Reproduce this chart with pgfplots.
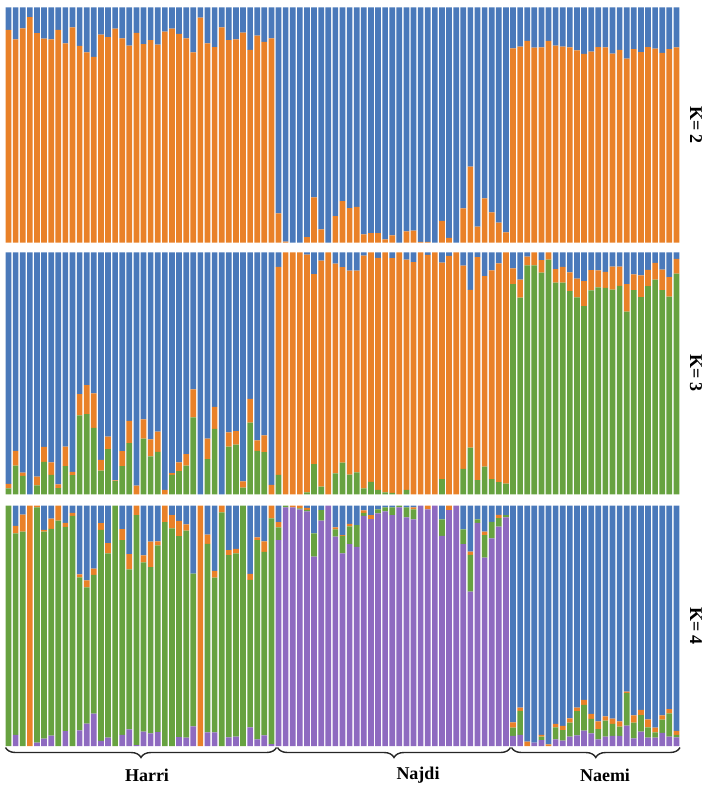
\documentclass[border=0pt]{standalone}
\usepackage{pgfplots}
\pgfplotsset{compat=1.18}
\usepackage{pgfplotstable}
\usepackage{fontspec}
\setmainfont{Liberation Serif}
\usetikzlibrary{decorations.pathreplacing}
\definecolor{cb}{RGB}{74,121,186}
\definecolor{co}{RGB}{233,129,40}
\definecolor{cg}{RGB}{103,162,64}
\definecolor{cp}{RGB}{142,106,192}

\pgfplotstableread{
i or bl
0 0.904 0.096
1 0.864 0.136
2 0.911 0.089
3 0.958 0.042
4 0.890 0.110
5 0.867 0.133
6 0.864 0.136
7 0.904 0.096
8 0.847 0.153
9 0.915 0.085
10 0.836 0.164
11 0.809 0.191
12 0.789 0.211
13 0.884 0.116
14 0.873 0.127
15 0.909 0.091
16 0.868 0.132
17 0.837 0.163
18 0.891 0.109
19 0.844 0.156
20 0.861 0.139
21 0.841 0.159
22 0.897 0.103
23 0.909 0.091
24 0.887 0.113
25 0.868 0.132
26 0.809 0.191
27 0.956 0.044
28 0.847 0.153
29 0.831 0.169
30 0.915 0.085
31 0.861 0.139
32 0.864 0.136
33 0.892 0.108
34 0.819 0.181
35 0.880 0.120
36 0.853 0.147
37 0.868 0.132
38 0.125 0.875
39 0.005 0.995
40 0.000 1.000
41 0.000 1.000
42 0.024 0.976
43 0.193 0.807
44 0.057 0.943
45 0.000 1.000
46 0.113 0.887
47 0.177 0.823
48 0.147 0.853
49 0.152 0.848
50 0.035 0.965
51 0.041 0.959
52 0.041 0.959
53 0.014 0.986
54 0.031 0.969
55 0.000 1.000
56 0.048 0.952
57 0.051 0.949
58 0.003 0.997
59 0.004 0.996
60 0.000 1.000
61 0.093 0.907
62 0.021 0.979
63 0.000 1.000
64 0.146 0.854
65 0.323 0.677
66 0.068 0.932
67 0.188 0.812
68 0.129 0.871
69 0.085 0.915
70 0.044 0.956
71 0.826 0.174
72 0.833 0.167
73 0.857 0.143
74 0.829 0.171
75 0.830 0.170
76 0.857 0.143
77 0.837 0.163
78 0.833 0.167
79 0.830 0.170
80 0.817 0.183
81 0.802 0.198
82 0.812 0.188
83 0.831 0.169
84 0.830 0.170
85 0.803 0.197
86 0.819 0.181
87 0.782 0.218
88 0.822 0.178
89 0.810 0.190
90 0.831 0.169
91 0.824 0.176
92 0.806 0.194
93 0.822 0.178
94 0.830 0.170
}\kTwo

\pgfplotstableread{
i gr or bl
0 0.025 0.018 0.957
1 0.118 0.061 0.821
2 0.076 0.014 0.910
3 0 0 1
4 0.037 0.036 0.927
5 0.134 0.062 0.804
6 0.080 0.052 0.868
7 0.026 0.015 0.959
8 0.116 0.081 0.803
9 0.079 0.014 0.907
10 0.326 0.088 0.586
11 0.331 0.120 0.549
12 0.274 0.143 0.583
13 0.098 0.044 0.858
14 0.187 0.051 0.762
15 0.054 0.004 0.942
16 0.116 0.062 0.822
17 0.212 0.091 0.697
18 0 0.036 0.964
19 0.230 0.080 0.690
20 0.157 0.070 0.773
21 0.175 0.084 0.741
22 0 0.018 0.982
23 0.080 0.008 0.912
24 0.096 0.036 0.868
25 0.118 0.048 0.834
26 0.318 0.116 0.566
27 0 0 1
28 0.145 0.085 0.770
29 0.270 0.091 0.639
30 0 0 1
31 0.197 0.059 0.744
32 0.205 0.056 0.739
33 0.028 0.025 0.947
34 0.296 0.098 0.606
35 0.179 0.044 0.777
36 0.174 0.070 0.756
37 0 0.039 0.961
38 0.080 0.860 0.060
39 0 1 0
40 0 1 0
41 0 1 0
42 0.008 0.982 0.010
43 0.125 0.785 0.090
44 0.032 0.934 0.034
45 0 1 0
46 0.087 0.866 0.047
47 0.131 0.808 0.061
48 0.081 0.843 0.076
49 0.091 0.833 0.076
50 0.025 0.961 0.014
51 0.051 0.949 0
52 0.018 0.959 0.023
53 0.008 0.992 0
54 0.006 0.970 0.024
55 0 1 0
56 0.018 0.952 0.030
57 0 0.959 0.041
58 0 1 0
59 0 0.989 0.011
60 0 1 0
61 0.063 0.894 0.043
62 0 0.985 0.015
63 0 1 0
64 0.105 0.840 0.055
65 0.193 0.652 0.155
66 0.059 0.921 0.020
67 0.114 0.788 0.098
68 0.063 0.862 0.075
69 0.050 0.904 0.046
70 0.044 0.956 0
71 0.869 0.065 0.066
72 0.813 0.074 0.113
73 0.946 0.036 0.018
74 0.946 0.054 0
75 0.916 0.052 0.032
76 0.970 0.030 0
77 0.875 0.056 0.069
78 0.875 0.065 0.060
79 0.840 0.077 0.083
80 0.814 0.077 0.109
81 0.778 0.103 0.119
82 0.843 0.083 0.074
83 0.855 0.070 0.075
84 0.853 0.066 0.081
85 0.846 0.095 0.059
86 0.861 0.080 0.059
87 0.755 0.113 0.132
88 0.844 0.065 0.091
89 0.815 0.090 0.095
90 0.860 0.067 0.073
91 0.887 0.069 0.044
92 0.844 0.084 0.072
93 0.817 0.080 0.103
94 0.912 0.061 0.027
}\kThree

\pgfplotstableread{
i pu gr or bl
0 0 1 0 0
1 0.046 0.839 0.031 0.084
2 0 0.892 0.071 0.037
3 0 0 1 0
4 0.014 0.979 0.007 0
5 0.031 0.861 0.007 0.101
6 0.043 0.861 0.042 0.054
7 0 0.938 0.062 0
8 0.062 0.850 0.017 0.071
9 0 0.958 0.012 0.030
10 0.065 0.637 0.012 0.286
11 0.093 0.567 0.029 0.311
12 0.135 0.577 0.026 0.262
13 0.021 0.878 0.028 0.073
14 0.035 0.767 0.042 0.156
15 0 1 0 0
16 0.046 0.811 0.046 0.097
17 0.069 0.666 0.064 0.201
18 0.004 0.957 0.039 0
19 0.060 0.704 0.029 0.207
20 0.053 0.691 0.107 0.149
21 0.058 0.777 0.017 0.148
22 0 0.932 0.068 0
23 0 0.906 0.055 0.039
24 0.037 0.836 0.064 0.063
25 0.035 0.861 0.026 0.078
26 0.082 0.635 0 0.283
27 0 0 1 0
28 0.057 0.784 0.039 0.120
29 0.057 0.644 0.028 0.271
30 0 0.972 0.028 0
31 0.036 0.758 0.021 0.185
32 0.039 0.763 0.018 0.180
33 0 1 0 0
34 0.078 0.613 0.025 0.284
35 0.028 0.829 0.011 0.132
36 0.044 0.764 0.044 0.148
37 0.008 0.939 0.053 0
38 0.857 0.053 0.022 0.068
39 0.993 0.007 0 0
40 0.993 0 0.007 0
41 0.985 0.004 0.011 0
42 0.976 0.007 0.008 0.009
43 0.788 0.097 0 0.115
44 0.938 0.044 0 0.018
45 1 0 0 0
46 0.871 0.031 0.008 0.090
47 0.802 0.072 0.004 0.122
48 0.840 0.074 0.010 0.076
49 0.829 0.090 0 0.081
50 0.958 0.012 0.011 0.019
51 0.944 0 0.017 0.039
52 0.968 0.017 0 0.015
53 0.976 0.017 0 0.007
54 0.961 0.032 0 0.007
55 0.993 0.007 0 0
56 0.951 0.042 0 0.007
57 0.943 0.042 0.008 0.007
58 1 0 0 0
59 0.985 0 0.015 0
60 1 0 0 0
61 0.874 0.069 0 0.057
62 0.982 0 0.018 0
63 1 0 0 0
64 0.840 0.061 0 0.099
65 0.642 0.153 0.014 0.191
66 0.929 0.014 0 0.057
67 0.784 0.094 0.014 0.108
68 0.864 0.069 0 0.067
69 0.913 0.035 0.014 0.038
70 0.951 0.010 0 0.039
71 0.042 0.035 0.021 0.902
72 0.046 0.100 0.014 0.840
73 0 0 0.018 0.982
74 0.014 0 0 0.986
75 0.025 0.014 0.007 0.954
76 0 0 0.007 0.993
77 0.028 0.050 0.014 0.908
78 0.022 0.044 0.018 0.916
79 0.039 0.058 0.018 0.885
80 0.044 0.101 0.015 0.840
81 0.064 0.107 0.021 0.808
82 0.053 0.060 0.021 0.866
83 0.028 0.042 0.032 0.898
84 0.039 0.067 0.017 0.877
85 0.042 0.050 0.022 0.886
86 0.042 0.039 0.021 0.898
87 0.085 0.135 0.006 0.774
88 0.032 0.065 0.031 0.872
89 0.060 0.069 0.021 0.850
90 0.035 0.043 0.033 0.889
91 0.035 0.022 0.019 0.924
92 0.055 0.055 0.017 0.873
93 0.039 0.097 0.018 0.846
94 0.036 0.010 0.017 0.937
}\kFour

\pgfplotsset{
  structbar/.style={
    scale only axis, width=675bp, xmin=-0.5, xmax=94.5, ymin=0, ymax=1,
    hide axis, ybar stacked, bar width=0.8,
    every axis plot/.append style={draw=none},
    anchor=north west
  }
}

\begin{document}
\begin{tikzpicture}
\path[use as bounding box] (0bp,0bp) rectangle (708bp,-790bp);

\begin{axis}[structbar, at={(5bp,-7.3bp)}, height=235.4bp]
\addplot[fill=co] table[x=i,y=or] {\kTwo};
\addplot[fill=cb] table[x=i,y=bl] {\kTwo};
\end{axis}

\begin{axis}[structbar, at={(5bp,-252.3bp)}, height=242bp]
\addplot[fill=cg] table[x=i,y=gr] {\kThree};
\addplot[fill=co] table[x=i,y=or] {\kThree};
\addplot[fill=cb] table[x=i,y=bl] {\kThree};
\end{axis}

\begin{axis}[structbar, at={(5bp,-505.7bp)}, height=240.3bp]
\addplot[fill=cp] table[x=i,y=pu] {\kFour};
\addplot[fill=cg] table[x=i,y=gr] {\kFour};
\addplot[fill=co] table[x=i,y=or] {\kFour};
\addplot[fill=cb] table[x=i,y=bl] {\kFour};
\end{axis}

\tikzset{klab/.style={rotate=-90, font=\bfseries\fontsize{18bp}{20bp}\selectfont, inner sep=0pt},
         glab/.style={font=\bfseries\fontsize{18bp}{20bp}\selectfont, inner sep=0pt},
         br/.style={decorate, decoration={brace, mirror, amplitude=10bp, aspect=0.5}, line width=1.4bp, black!85}}
\node[klab] at (696bp,-125bp) {K= 2};
\node[klab] at (696bp,-373bp) {K= 3};
\node[klab] at (696bp,-626bp) {K= 4};

\draw[br] (5.5bp,-747.5bp) -- (276.5bp,-747.5bp);
\draw[br] (277.5bp,-747.5bp) -- (510.5bp,-747.5bp);
\draw[br] (511.5bp,-747.5bp) -- (680bp,-747.5bp);

\node[glab] at (147bp,-775bp) {Harri};
\node[glab] at (418bp,-775bp) {Najdi};
\node[glab] at (605bp,-775bp) {Naemi};
\end{tikzpicture}
\end{document}
